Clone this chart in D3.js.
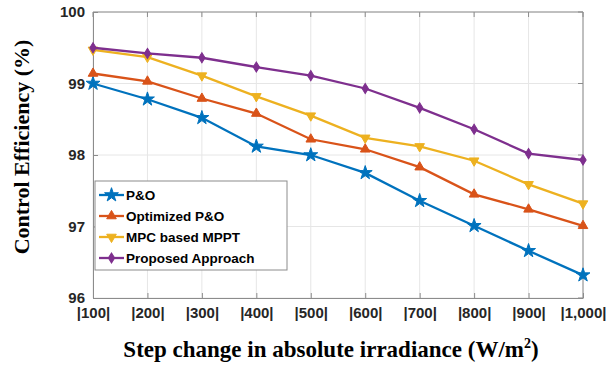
<!DOCTYPE html>
<html>
<head>
<meta charset="utf-8">
<script src="https://cdn.jsdelivr.net/npm/d3@7"></script>
<style>
  body { margin: 0; background: #fff; }
  svg { display: block; }
</style>
</head>
<body>
<svg id="chart" width="607" height="365"></svg>
<script>
// irradiance steps and tick labels
const steps = [100, 200, 300, 400, 500, 600, 700, 800, 900, 1000];
const stepLabels = ["|100|", "|200|", "|300|", "|400|", "|500|", "|600|", "|700|", "|800|", "|900|", "|1,000|"];
const yTicks = [96, 97, 98, 99, 100];

// control efficiency (%) per method
const pando      = [99.00, 98.78, 98.52, 98.12, 98.00, 97.75, 97.36, 97.01, 96.66, 96.32];
const optPando   = [99.14, 99.03, 98.79, 98.58, 98.22, 98.08, 97.83, 97.45, 97.24, 97.01];
const mpcMppt    = [99.47, 99.37, 99.11, 98.82, 98.55, 98.24, 98.12, 97.92, 97.59, 97.32];
const proposed   = [99.50, 99.42, 99.36, 99.23, 99.11, 98.93, 98.66, 98.36, 98.02, 97.93];

const series = [
  {name: "P&O", values: pando, color: "#0072BD", marker: d3.symbolStar},
  {name: "Optimized P&O", values: optPando, color: "#D95319", marker: d3.symbolTriangle},
  {name: "MPC based MPPT", values: mpcMppt, color: "#EDB120", marker: "down"},
  {name: "Proposed Approach", values: proposed, color: "#7E2F8E", marker: d3.symbolDiamond2}
];

const margin = {top: 12, right: 24, bottom: 67, left: 93};
const W = 607, H = 365;
const width = W - margin.left - margin.right;
const height = H - margin.top - margin.bottom;

const svg = d3.select("#chart");
const g = svg.append("g").attr("transform", `translate(${margin.left},${margin.top})`);

const x = d3.scaleLinear().domain([100, 1000]).range([0, width]);
const y = d3.scaleLinear().domain([96, 100]).range([height, 0]);

// grid
g.append("g").selectAll("line").data(steps).join("line")
  .attr("x1", d => x(d)).attr("x2", d => x(d))
  .attr("y1", 0).attr("y2", height)
  .attr("stroke", "#e6e6e6").attr("stroke-width", 1);
g.append("g").selectAll("line").data(yTicks).join("line")
  .attr("x1", 0).attr("x2", width)
  .attr("y1", d => y(d)).attr("y2", d => y(d))
  .attr("stroke", "#e6e6e6").attr("stroke-width", 1);

// axes
const xAxis = g.append("g").attr("transform", `translate(0,${height})`)
  .call(d3.axisBottom(x).tickValues(steps).tickSizeInner(-5).tickSizeOuter(0)
    .tickPadding(9).tickFormat((d, i) => stepLabels[i]));
const yAxis = g.append("g")
  .call(d3.axisLeft(y).tickValues(yTicks).tickSizeInner(-5).tickSizeOuter(0)
    .tickPadding(8).tickFormat(d3.format("d")));
[xAxis, yAxis].forEach(a => {
  a.select(".domain").attr("stroke", "#8c8c8c");
  a.selectAll(".tick line").attr("stroke", "#8c8c8c");
  a.selectAll("text").attr("fill", "#262626")
    .style("font-family", "Liberation Sans, Arial, sans-serif")
    .style("font-size", "15px").style("font-weight", "bold");
});
xAxis.selectAll("text").attr("dy", "0.75em");
// top and right frame
g.append("line").attr("x1", 0).attr("x2", width).attr("y1", 0).attr("y2", 0).attr("stroke", "#8c8c8c");
g.append("line").attr("x1", width).attr("x2", width).attr("y1", 0).attr("y2", height).attr("stroke", "#8c8c8c");
g.append("g").selectAll("line").data(steps).join("line")
  .attr("x1", d => x(d)).attr("x2", d => x(d)).attr("y1", 0).attr("y2", 5).attr("stroke", "#8c8c8c");
g.append("g").selectAll("line").data(yTicks).join("line")
  .attr("x1", width - 5).attr("x2", width).attr("y1", d => y(d)).attr("y2", d => y(d)).attr("stroke", "#8c8c8c");

function markerPath(m, size) {
  if (m === "down") return d3.symbol(d3.symbolTriangle, size)();
  return d3.symbol(m, size)();
}
function markerTransform(m) {
  if (m === "down") return " rotate(180)";
  if (m === d3.symbolDiamond2) return " scale(0.8,1.3)";
  return "";
}

const line = d3.line().x((d, i) => x(steps[i])).y(d => y(d));

series.forEach(s => {
  g.append("path").datum(s.values)
    .attr("fill", "none").attr("stroke", s.color).attr("stroke-width", 2.3)
    .attr("d", line);
  g.append("g").selectAll("path").data(s.values).join("path")
    .attr("d", markerPath(s.marker, s.marker === d3.symbolStar ? 60 : 40))
    .attr("transform", (d, i) => `translate(${x(steps[i])},${y(d)})` + markerTransform(s.marker))
    .attr("fill", s.color).attr("stroke", s.color).attr("stroke-width", 1);
});

// legend
const lg = g.append("g").attr("transform", `translate(2,169)`);
lg.append("rect").attr("width", 192).attr("height", 89)
  .attr("fill", "#fff").attr("stroke", "#8c8c8c").attr("stroke-width", 1);
series.forEach((s, i) => {
  const ly = 14 + i * 21;
  lg.append("line").attr("x1", 4).attr("x2", 29).attr("y1", ly).attr("y2", ly)
    .attr("stroke", s.color).attr("stroke-width", 2.3);
  lg.append("path").attr("d", markerPath(s.marker, s.marker === d3.symbolStar ? 60 : 40))
    .attr("transform", `translate(16.5,${ly})` + markerTransform(s.marker))
    .attr("fill", s.color).attr("stroke", s.color);
  lg.append("text").attr("x", 31).attr("y", ly).attr("dy", "0.36em")
    .attr("fill", "#000")
    .style("font-family", "Liberation Sans, Arial, sans-serif")
    .style("font-size", "13.5px").style("font-weight", "bold")
    .text(s.name);
});

// axis titles
const xt = svg.append("text").attr("x", 331).attr("y", 357)
  .attr("text-anchor", "middle").attr("fill", "#000")
  .style("font-family", "Liberation Serif, Times New Roman, serif")
  .style("font-size", "23px").style("font-weight", "bold");
xt.append("tspan").text("Step change in absolute irradiance (W/m");
xt.append("tspan").attr("dy", -9).style("font-size", "14px").text("2");
xt.append("tspan").attr("dy", 9).text(")");

svg.append("text")
  .attr("transform", `translate(29,147) rotate(-90)`)
  .attr("text-anchor", "middle").attr("fill", "#000")
  .style("font-family", "Liberation Serif, Times New Roman, serif")
  .style("font-size", "22px").style("font-weight", "bold")
  .text("Control Efficiency (%)");
</script>
</body>
</html>
